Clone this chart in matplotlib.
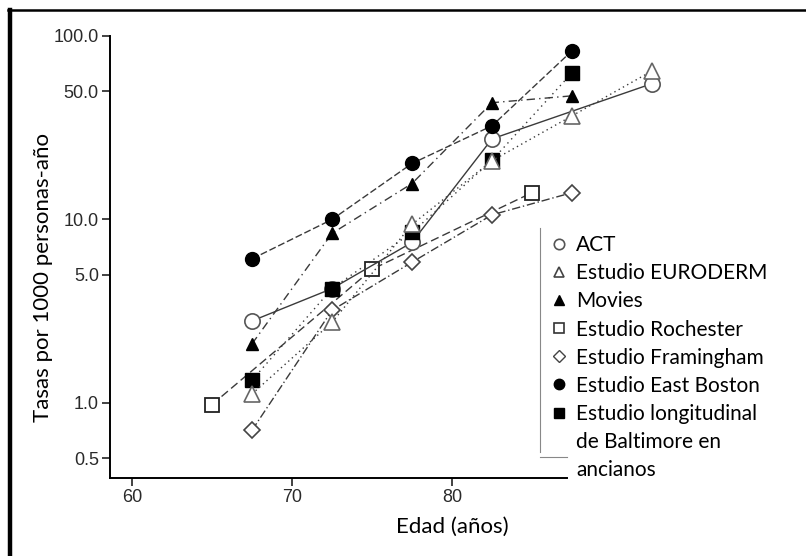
import matplotlib
matplotlib.use("Agg")
import matplotlib.pyplot as plt
from matplotlib.lines import Line2D

# edades (centro de cada grupo)
edad = [67.5, 72.5, 77.5, 82.5, 87.5]
edad_act = [67.5, 72.5, 77.5, 82.5, 92.5]
edad_euro = [67.5, 72.5, 77.5, 82.5, 87.5, 92.5]
edad_roch = [65, 75, 85]

# tasas por 1000 personas-año
act = [2.8, 4.2, 7.5, 27.5, 55.0]
euroderm = [1.12, 2.75, 9.4, 20.9, 36.7, 64.5]
movies = [2.1, 8.4, 15.7, 43.3, 47.2]
rochester = [0.98, 5.35, 14.0]
framingham = [0.71, 3.2, 5.85, 10.6, 14.0]
east_boston = [6.1, 10.0, 20.2, 32.4, 83.0]
baltimore = [1.33, 4.2, 8.5, 21.0, 63.0]

W, H = 806, 556
fig = plt.figure(figsize=(W / 100, H / 100), dpi=100)

# marco exterior
fig.add_artist(Line2D([10 / W, 10 / W], [0, 1 - 10 / H], color="black", lw=3.2))
fig.add_artist(Line2D([8 / W, 1], [1 - 10 / H, 1 - 10 / H], color="black", lw=1.8))

# ejes en pixeles: izq 110, der 692, arriba 36, abajo 478
ax = fig.add_axes([110 / W, 1 - 478 / H, 582 / W, 442 / H])
ax.set_yscale("log")
ax.set_xlim(58.625, 95)
ax.set_ylim(0.39, 100)

lc = "#3a3a3a"
ec = "#444444"
lw = 1.0

ax.plot(edad_roch, rochester, linestyle=(0, (6, 3)), color=lc, lw=lw,
        marker="s", ms=10, mfc="white", mec="#222222", mew=1.3)
ax.plot(edad, framingham, linestyle=(0, (6, 2, 1, 2)), color=lc, lw=lw,
        marker="D", ms=8, mfc="white", mec=ec, mew=1.2)
ax.plot(edad_act, act, linestyle="-", color=lc, lw=lw,
        marker="o", ms=11, mfc="white", mec="#555555", mew=1.2)
ax.plot(edad, baltimore, linestyle=(0, (1, 3)), color=lc, lw=lw,
        marker="s", ms=10, mfc="black", mec="black")
ax.plot(edad_euro, euroderm, linestyle=(0, (1, 2.5)), color=lc, lw=lw,
        marker="^", ms=11, mfc="white", mec="#666666", mew=1.2)
ax.plot(edad, movies, linestyle=(0, (6, 3, 1, 3)), color=lc, lw=lw,
        marker="^", ms=9, mfc="black", mec="black")
ax.plot(edad, east_boston, linestyle=(0, (5, 2)), color=lc, lw=lw,
        marker="o", ms=10, mfc="black", mec="black")

ax.set_yticks([0.5, 1.0, 5.0, 10.0, 50.0, 100.0])
ax.set_yticklabels(["0.5", "1.0", "5.0", "10.0", "50.0", "100.0"])
ax.minorticks_off()
ax.set_xticks([60, 70, 80])
ax.tick_params(direction="out", length=6, width=1.2, color="#222222",
               labelsize=13, labelcolor="#2a2a2a", pad=2)
for lab in ax.get_xticklabels() + ax.get_yticklabels():
    lab.set_family("Liberation Sans")

for s in ["top", "right"]:
    ax.spines[s].set_visible(False)
ax.spines["left"].set_linewidth(1.4)
ax.spines["bottom"].set_linewidth(1.4)
ax.spines["bottom"].set_bounds(58.625, 87.2)

ax.set_ylabel("Tasas por 1000 personas-año", family="Lato", fontsize=16)
ax.yaxis.set_label_coords(-(110 - 43) / 582, (478 - 277) / 442)
ax.set_xlabel("Edad (años)", family="Lato", fontsize=16)
ax.xaxis.set_label_coords((452 - 110) / 582, -(527 - 478) / 442)
ax.xaxis.label.set_va("center")
ax.yaxis.label.set_va("center")

# leyenda
mk = dict(linestyle="none", ms=7.5)
handles = [
    Line2D([], [], marker="o", mfc="white", mec="#555555", mew=1.2, **mk),
    Line2D([], [], marker="^", mfc="white", mec="#444444", mew=1.2, **mk),
    Line2D([], [], marker="^", mfc="black", mec="black", **mk),
    Line2D([], [], marker="s", mfc="white", mec="#333333", mew=1.2, **mk),
    Line2D([], [], marker="D", mfc="white", mec="#444444", mew=1.0, linestyle="none", ms=6.5),
    Line2D([], [], marker="o", mfc="black", mec="black", **mk),
    Line2D([], [], marker="s", mfc="black", mec="black", **mk),
    Line2D([], [], linestyle="none"),
    Line2D([], [], linestyle="none"),
]
labels = ["ACT", "Estudio EURODERM", "Movies", "Estudio Rochester",
          "Estudio Framingham", "Estudio East Boston", "Estudio longitudinal",
          "de Baltimore en", "ancianos"]
leg = fig.legend(handles, labels, loc="upper left",
                 bbox_to_anchor=(549 / W, 1 - 232 / H),
                 frameon=False,
                 prop={"family": "Lato", "size": 15},
                 handlelength=0.7, handletextpad=0.45, labelspacing=0.39,
                 borderpad=0.15, borderaxespad=0)

# lineas sueltas junto a la leyenda
fig.add_artist(Line2D([540 / W, 540 / W], [1 - 228 / H, 1 - 452 / H],
                      color="#888888", lw=0.8, zorder=10))
fig.add_artist(Line2D([540 / W, 567 / W], [1 - 457 / H, 1 - 457 / H],
                      color="#888888", lw=0.8, zorder=10))

fig.savefig("out.png", dpi=100)
